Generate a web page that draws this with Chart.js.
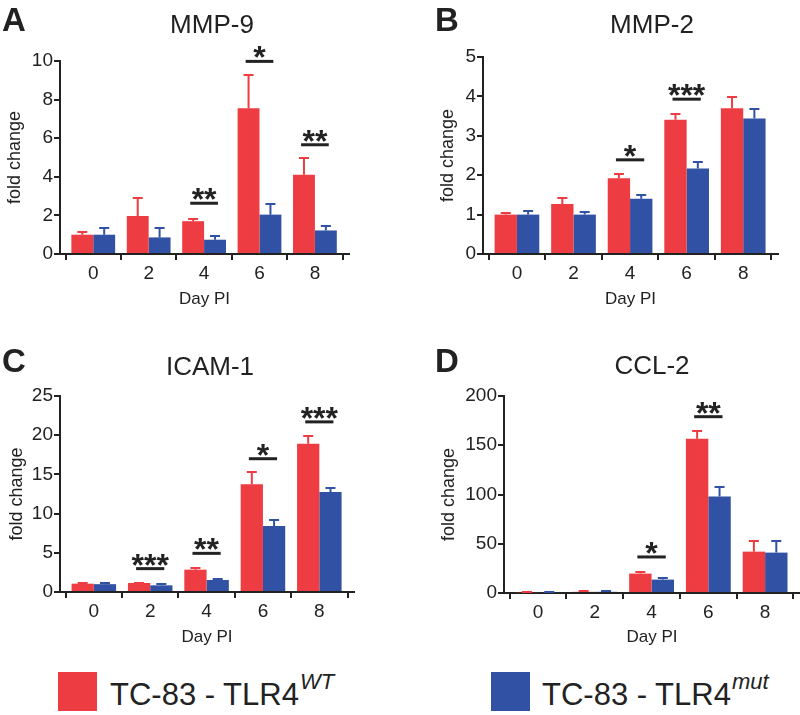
<!DOCTYPE html>
<html>
<head>
<meta charset="utf-8">
<script src="https://cdn.jsdelivr.net/npm/chart.js@4.4.1/dist/chart.umd.min.js"></script>
<style>
  body { margin: 0; background: #fff; }
  #wrap { position: relative; width: 800px; height: 715px; overflow: hidden; font-family: "Liberation Sans", Arial, sans-serif; color: #222; }
  canvas { position: absolute; }
  .swatch { position: absolute; top: 672px; width: 39px; height: 39px; }
  .key { position: absolute; top: 679px; font-size: 31px; line-height: 31px; white-space: nowrap; }
  .key sup { font-size: 22px; font-style: italic; vertical-align: baseline; position: relative; top: -16px; margin-left: 1px; }
</style>
</head>
<body>
<div id="wrap">
  <canvas id="cA"></canvas>
  <canvas id="cB"></canvas>
  <canvas id="cC"></canvas>
  <canvas id="cD"></canvas>
  <div class="swatch" style="left:58px;background:#ee3d42"></div>
  <div class="key" style="left:110px">TC-83 - TLR4<sup>WT</sup></div>
  <div class="swatch" style="left:491px;background:#3151a4"></div>
  <div class="key" style="left:542px">TC-83 - TLR4<sup>mut</sup></div>
</div>
<script>
document.addEventListener('DOMContentLoaded', function() {
    const ink = '#222';
    const family = '"Liberation Sans", Arial, sans-serif';
    const red = '#ee3d42';
    const blue = '#3151a4';

    // Days post infection
    const days = [0, 2, 4, 6, 8];

    // MMP-9
    const mmp9WT = [1.0, 1.97, 1.7, 7.55, 4.1];
    const mmp9WTErr = [0.15, 0.93, 0.13, 1.71, 0.86];
    const mmp9Mut = [1.0, 0.86, 0.74, 2.04, 1.22];
    const mmp9MutErr = [0.33, 0.5, 0.21, 0.55, 0.25];
    const mmp9Sig = [{ day: 4, y: 2.63, label: '**' }, { day: 6, y: 9.98, label: '*' }, { day: 8, y: 5.66, label: '**' }];

    // MMP-2
    const mmp2WT = [1.0, 1.27, 1.92, 3.41, 3.7];
    const mmp2WTErr = [0.03, 0.14, 0.11, 0.14, 0.28];
    const mmp2Mut = [1.0, 1.0, 1.4, 2.17, 3.44];
    const mmp2MutErr = [0.08, 0.07, 0.1, 0.16, 0.24];
    const mmp2Sig = [{ day: 4, y: 2.39, label: '*' }, { day: 6, y: 3.93, label: '***' }];

    // ICAM-1
    const icamWT = [1.06, 1.15, 2.85, 13.73, 18.9];
    const icamWTErr = [0.05, 0.05, 0.25, 1.53, 1.0];
    const icamMut = [1.0, 0.85, 1.53, 8.42, 12.76];
    const icamMutErr = [0.1, 0.13, 0.17, 0.76, 0.45];
    const icamSig = [{ day: 2, y: 2.98, label: '***' }, { day: 4, y: 4.93, label: '**' }, { day: 6, y: 17.0, label: '*' }, { day: 8, y: 21.7, label: '***' }];

    // CCL-2
    const cclWT = [0.8, 1.2, 19.7, 156.6, 42];
    const cclWTErr = [0.4, 0.6, 2.0, 7.8, 11];
    const cclMut = [0.9, 1.2, 13.6, 98, 41];
    const cclMutErr = [0.5, 1.2, 1.7, 9.5, 12];
    const cclSig = [{ day: 4, y: 36.6, label: '*' }, { day: 6, y: 179, label: '**' }];

    // error bars (upper half only, like the original)
    const errorBars = {
        id: 'errorBars',
        afterDatasetsDraw(chart) {
            const ctx = chart.ctx;
            const y = chart.scales.y;
            chart.data.datasets.forEach((ds, di) => {
                chart.getDatasetMeta(di).data.forEach((bar, i) => {
                    const top = Math.round(y.getPixelForValue(ds.data[i].y + ds.errors[i]));
                    ctx.save();
                    ctx.strokeStyle = ds.backgroundColor;
                    ctx.lineWidth = 2;
                    ctx.beginPath();
                    ctx.moveTo(bar.x, bar.y);
                    ctx.lineTo(bar.x, top);
                    ctx.moveTo(bar.x - 5, top);
                    ctx.lineTo(bar.x + 5, top);
                    ctx.stroke();
                    ctx.restore();
                });
            });
        }
    };

    // significance bars with stars
    const sigMarks = {
        id: 'sigMarks',
        afterDraw(chart, args, opts) {
            const { ctx, scales: { x, y } } = chart;
            opts.marks.forEach(m => {
                const yy = y.getPixelForValue(m.y);
                ctx.save();
                ctx.strokeStyle = ink;
                ctx.lineWidth = 3;
                ctx.beginPath();
                ctx.moveTo(x.getPixelForValue(m.day - 0.5), yy);
                ctx.lineTo(x.getPixelForValue(m.day + 0.5), yy);
                ctx.stroke();
                ctx.fillStyle = ink;
                ctx.font = 'bold 32px ' + family;
                ctx.textAlign = 'center';
                ctx.textBaseline = 'alphabetic';
                ctx.fillText(m.label, x.getPixelForValue(m.day), yy + 7);
                ctx.restore();
            });
        }
    };

    // panel letter and gene title
    const panelText = {
        id: 'panelText',
        afterDraw(chart, args, o) {
            const ctx = chart.ctx;
            ctx.save();
            ctx.fillStyle = ink;
            ctx.textBaseline = 'alphabetic';
            ctx.textAlign = 'left';
            ctx.font = 'bold 33px ' + family;
            ctx.fillText(o.letter, o.letterX, o.letterY);
            ctx.textAlign = 'center';
            ctx.font = '26px ' + family;
            ctx.fillText(o.title, o.titleX, o.titleY);
            ctx.restore();
        }
    };

    const panels = [
        { id: 'cA', letter: 'A', title: 'MMP-9', wt: mmp9WT, wtErr: mmp9WTErr, mut: mmp9Mut, mutErr: mmp9MutErr, sig: mmp9Sig, yMax: 10, yStep: 2,
          box: { left: 0, top: 0, w: 400, h: 320 }, area: { l: 60, t: 61, r: 349, b: 254 }, padL: 0, padB: 10,
          letterX: 2, letterY: 31, titleX: 212, titleY: 33 },
        { id: 'cB', letter: 'B', title: 'MMP-2', wt: mmp2WT, wtErr: mmp2WTErr, mut: mmp2Mut, mutErr: mmp2MutErr, sig: mmp2Sig, yMax: 5, yStep: 1,
          box: { left: 400, top: 0, w: 400, h: 320 }, area: { l: 83, t: 57, r: 378, b: 254 }, padL: 33, padB: 10,
          letterX: 35, letterY: 31, titleX: 252, titleY: 33 },
        { id: 'cC', letter: 'C', title: 'ICAM-1', wt: icamWT, wtErr: icamWTErr, mut: icamMut, mutErr: icamMutErr, sig: icamSig, yMax: 25, yStep: 5,
          box: { left: 0, top: 320, w: 400, h: 330 }, area: { l: 60, t: 76, r: 354, b: 272 }, padL: 2, padB: 2,
          letterX: 2, letterY: 52, titleX: 210, titleY: 55 },
        { id: 'cD', letter: 'D', title: 'CCL-2', wt: cclWT, wtErr: cclWTErr, mut: cclMut, mutErr: cclMutErr, sig: cclSig, yMax: 200, yStep: 50,
          box: { left: 400, top: 320, w: 400, h: 330 }, area: { l: 104, t: 76, r: 400, b: 273 }, padL: 34, padB: 2,
          letterX: 35, letterY: 52, titleX: 252, titleY: 54 }
    ];

    const makePanel = (p) => {
        const canvas = document.getElementById(p.id);
        canvas.width = p.box.w;
        canvas.height = p.box.h;
        canvas.style.left = p.box.left + 'px';
        canvas.style.top = p.box.top + 'px';
        canvas.style.width = p.box.w + 'px';
        canvas.style.height = p.box.h + 'px';

        const toPoints = (vals) => days.map((d, i) => ({ x: d, y: vals[i] }));

        new Chart(canvas.getContext('2d'), {
            type: 'bar',
            data: {
                datasets: [{
                    label: 'TC-83 - TLR4 WT',
                    data: toPoints(p.wt),
                    errors: p.wtErr,
                    backgroundColor: red,
                    borderWidth: 0
                }, {
                    label: 'TC-83 - TLR4 mut',
                    data: toPoints(p.mut),
                    errors: p.mutErr,
                    backgroundColor: blue,
                    borderWidth: 0
                }]
            },
            options: {
                responsive: false,
                animation: false,
                categoryPercentage: 0.79,
                barPercentage: 1.0,
                layout: {
                    padding: { left: p.padL, top: p.area.t, right: p.box.w - p.area.r, bottom: p.padB }
                },
                scales: {
                    x: {
                        type: 'linear',
                        min: -1.2,
                        max: 9.23,
                        offset: false,
                        afterBuildTicks: s => { s.ticks = days.map(d => ({ value: d })); },
                        afterFit: s => { s.height = p.box.h - p.padB - p.area.b; },
                        grid: { drawOnChartArea: false, drawTicks: true, tickLength: 6, color: ink, lineWidth: 2 },
                        border: { color: ink, width: 2 },
                        ticks: { color: ink, font: { size: 19, family: family }, padding: 2, maxRotation: 0 },
                        title: { display: true, text: 'Day PI', color: ink, font: { size: 17, family: family }, padding: { top: 0, bottom: 0 } }
                    },
                    y: {
                        min: 0,
                        max: p.yMax,
                        afterFit: s => { s.width = p.area.l - p.padL; },
                        grid: { drawOnChartArea: false, drawTicks: true, tickLength: 6, color: ink, lineWidth: 2 },
                        border: { color: ink, width: 2 },
                        ticks: { stepSize: p.yStep, color: ink, font: { size: 19, family: family }, padding: 1 },
                        title: { display: true, text: 'fold change', color: ink, font: { size: 18, family: family }, padding: { top: 4, bottom: 0 } }
                    }
                },
                plugins: {
                    legend: { display: false },
                    tooltip: { enabled: false },
                    sigMarks: { marks: p.sig },
                    panelText: { letter: p.letter, title: p.title, letterX: p.letterX, letterY: p.letterY, titleX: p.titleX, titleY: p.titleY }
                }
            },
            plugins: [errorBars, sigMarks, panelText]
        });
    };

    panels.forEach(makePanel);
});
</script>
</body>
</html>
